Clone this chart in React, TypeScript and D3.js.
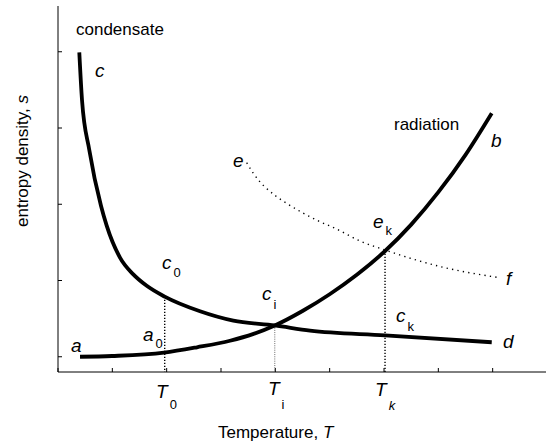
import { scaleLinear, line as d3_line, curveMonotoneX } from "d3";

// condensate curve c -> d  (temperature, entropy density)
const condT = [0.392, 0.442, 0.576, 0.791, 0.896, 1.141, 1.386, 1.633, 1.964, 2.614, 3.227, 3.99, 4.638, 6.019, 7.983];
const condS = [3.993, 3.367, 2.712, 1.98, 1.72, 1.3, 1.08, 0.93, 0.788, 0.596, 0.473, 0.41, 0.342, 0.281, 0.19];

// radiation curve a -> b
const radT = [0.405, 0.994, 1.951, 2.558, 3.166, 3.6, 3.99, 4.5, 5.0, 5.5, 6.02, 6.5, 7.0, 7.5, 7.983];
const radS = [0.0, 0.01, 0.053, 0.124, 0.21, 0.3, 0.41, 0.6, 0.82, 1.075, 1.387, 1.733, 2.158, 2.648, 3.194];

// dotted curve e -> f
const efT = [3.473, 3.595, 4.025, 4.209, 4.822, 5.098, 5.558, 6.019, 7.092, 8.075];
const efS = [2.545, 2.406, 2.099, 2.012, 1.771, 1.685, 1.518, 1.4, 1.173, 1.042];

// vertical guides: T0, Ti, Tk and the height they rise to
const guideT = [1.964, 3.99, 6.019];
const guideTop = [0.788, 0.41, 1.39];
const guideKind = ["dark", "light", "dark"];

const xTicks = [0, 1, 2, 3, 4, 5, 6, 7, 8, 9];
const yTicks = [0, 1, 2, 3, 4];

// italic letter labels with optional subscript (data coords of the baseline start)
const labelText = ["c", "b", "e", "e", "f", "c", "c", "c", "a", "a", "d", "T", "T", "T"];
const labelSub = ["", "", "", "k", "", "0", "i", "k", "", "0", "", "0", "i", "k"];
const labelSubItalic = [false, false, false, false, false, false, false, false, false, false, false, false, false, true];
const labelT = [0.681, 7.969, 3.221, 5.798, 8.246, 1.914, 3.755, 6.221, 0.239, 1.564, 8.19, 1.804, 3.865, 5.835];
const labelS = [3.668, 2.755, 2.488, 1.689, 0.941, 1.151, 0.744, 0.46, 0.058, 0.21, 0.115, -0.54, -0.5, -0.515];
const labelSubDy = [0, 0, 0, 7, 0, 8, 9, 9, 0, 7, 0, 11, 14, 14];

// plain word labels
const wordText = ["condensate", "radiation"];
const wordT = [0.331, 6.184];
const wordS = [4.216, 2.974];

const W = 546;
const H = 448;
const font = "'Liberation Sans', Arial, Helvetica, sans-serif";

export default function App() {
  const x = scaleLinear().domain([0, 9]).range([58, 547]);
  const y = scaleLinear().domain([-0.2, 4.6]).range([372, 6]);

  const line = d3_line<[number, number]>()
    .x((d) => x(d[0]))
    .y((d) => y(d[1]))
    .curve(curveMonotoneX);

  const cond = line(condT.map((t, i) => [t, condS[i]] as [number, number])) ?? "";
  const rad = line(radT.map((t, i) => [t, radS[i]] as [number, number])) ?? "";
  const ef = line(efT.map((t, i) => [t, efS[i]] as [number, number])) ?? "";

  return (
    <svg
      width={W}
      height={H}
      style={{ position: "fixed", left: 0, top: 0, background: "#fff" }}
      fontFamily={font}
    >
      {/* axes */}
      <line x1={x(0)} x2={x(0)} y1={y(4.6)} y2={y(-0.2)} stroke="#000" strokeWidth={1} />
      <line x1={x(0)} x2={W} y1={y(-0.2)} y2={y(-0.2)} stroke="#000" strokeWidth={1} />
      {xTicks.map((t) => (
        <line key={"xt" + t} x1={x(t)} x2={x(t)} y1={y(-0.2)} y2={y(-0.2) - 4} stroke="#000" strokeWidth={1} />
      ))}
      {yTicks.map((t) => (
        <line key={"yt" + t} x1={x(0)} x2={x(0) + 4} y1={y(t)} y2={y(t)} stroke="#000" strokeWidth={1} />
      ))}

      {/* vertical guides */}
      {guideT.map((t, i) => (
        <line
          key={"g" + i}
          x1={x(t)}
          x2={x(t)}
          y1={y(guideTop[i])}
          y2={y(-0.2)}
          stroke={guideKind[i] === "dark" ? "#000" : "#444"}
          strokeWidth={guideKind[i] === "dark" ? 1.4 : 0.8}
          strokeDasharray={guideKind[i] === "dark" ? "1.3 1.7" : "1 1.2"}
        />
      ))}

      {/* e-f dotted curve */}
      <path d={ef} fill="none" stroke="#000" strokeWidth={1.4} strokeDasharray="1.3 4.2" />

      {/* main curves */}
      <path d={rad} fill="none" stroke="#000" strokeWidth={3.8} />
      <path d={cond} fill="none" stroke="#000" strokeWidth={3.8} />

      {/* word labels */}
      {wordText.map((w, i) => (
        <text key={"w" + i} x={x(wordT[i])} y={y(wordS[i])} fontSize={17} fill="#000">
          {w}
        </text>
      ))}

      {/* letter labels */}
      {labelText.map((l, i) => (
        <text key={"l" + i} x={x(labelT[i])} y={y(labelS[i])} fontSize={19} fontStyle="italic" fill="#000">
          {l}
          {labelSub[i] && (
            <tspan dx={2} dy={labelSubDy[i]} fontSize={13} fill="#000" fontStyle={labelSubItalic[i] ? "italic" : "normal"}>
              {labelSub[i]}
            </tspan>
          )}
        </text>
      ))}

      {/* axis titles */}
      <text x={218} y={438} fontSize={17} fill="#000">
        Temperature, <tspan fontStyle="italic">T</tspan>
      </text>
      <text transform="translate(28,227) rotate(-90)" fontSize={17} fill="#000">
        entropy density, <tspan fontStyle="italic">s</tspan>
      </text>
    </svg>
  );
}
